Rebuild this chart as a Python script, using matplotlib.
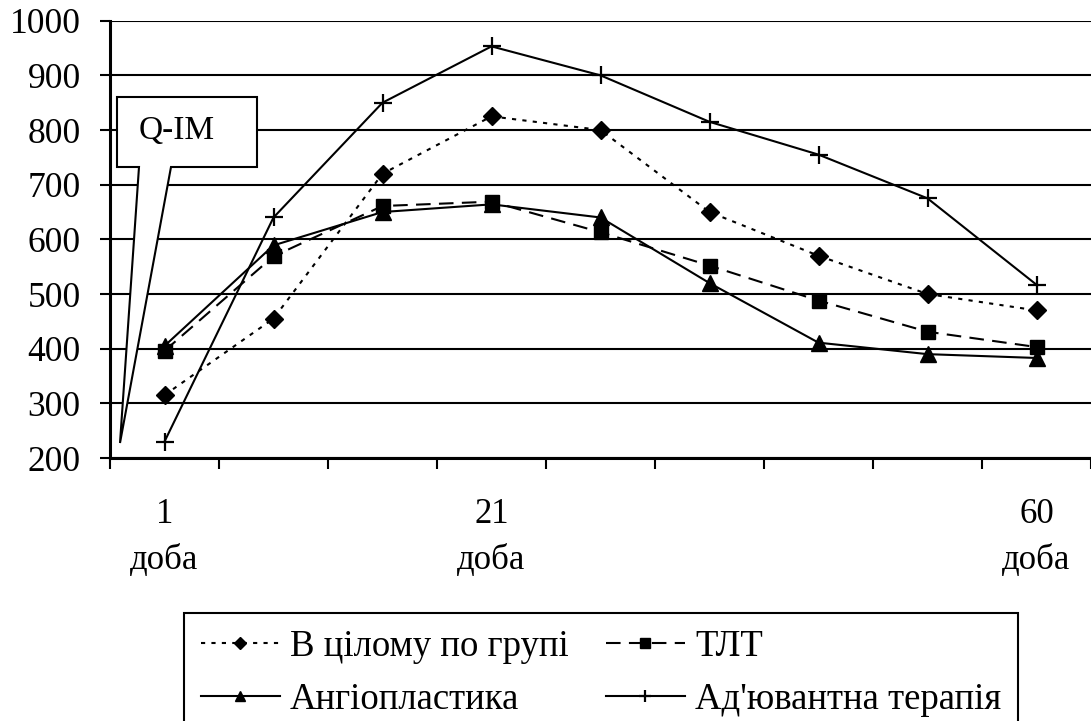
import matplotlib
matplotlib.use("Agg")
import matplotlib.pyplot as plt
from matplotlib.patches import Polygon
import numpy as np

plt.rcParams['font.family'] = ['Liberation Serif', 'DejaVu Serif']

# ---- data ----
categories = ["1\nдоба", "", "", "21\nдоба", "", "", "", "", "60\nдоба"]
series_names = ["В цілому по групі", "ТЛТ", "Ангіопластика", "Ад'ювантна терапія"]
whole_group = [315, 455, 720, 825, 800, 650, 570, 500, 470]
tlt = [396, 569, 661, 669, 613, 552, 488, 431, 403]
angioplasty = [405, 589, 650, 664, 640, 520, 411, 390, 383]
adjuvant = [230, 640, 850, 953, 900, 815, 755, 675, 517]
y_ticks = [200, 300, 400, 500, 600, 700, 800, 900, 1000]
callout_text = "Q-IM"

W, H = 1091, 721
fig = plt.figure(figsize=(W / 100, H / 100), dpi=100)
ax = fig.add_axes([110 / W, 1 - 458 / H, 1 - 110 / W, (458 - 20.7) / H])

x = np.arange(1, len(categories) + 1)
lw = 1.5
l1, = ax.plot(x, whole_group, color='black', lw=lw, linestyle=(0, (2, 3)),
              marker='D', markersize=9, zorder=3)
l2, = ax.plot(x, tlt, color='black', lw=lw, linestyle=(0, (7, 4)),
              marker='s', markersize=10, zorder=3)
l3, = ax.plot(x, angioplasty, color='black', lw=lw, linestyle='-',
              marker='^', markersize=11, zorder=3)
l4, = ax.plot(x, adjuvant, color='black', lw=lw, linestyle='-',
              marker='+', markersize=13, markeredgewidth=1.6, zorder=3)

ax.set_xlim(0.5, len(categories) + 0.5)
ax.set_ylim(200, 1000)
ax.set_yticks(y_ticks)
ax.yaxis.grid(True, color='black', lw=1.5, zorder=0)
ax.set_axisbelow(True)

# x ticks: marks at category boundaries, labels at centres
ax.set_xticks(np.arange(0.5, len(categories) + 0.51, 1.0))
ax.set_xticklabels([])
ax.set_xticks(x, minor=True)
ax.set_xticklabels(categories, minor=True, fontsize=25, linespacing=1.5)
ax.tick_params(axis='x', which='major', direction='out', length=8, width=1.5)
ax.tick_params(axis='x', which='minor', length=0, pad=29)
ax.tick_params(axis='y', direction='out', length=7, width=1.5, pad=14, labelsize=25.5)

for s in ['top', 'right']:
    ax.spines[s].set_visible(False)
for s in ['left', 'bottom']:
    ax.spines[s].set_linewidth(2.2)

# callout
pts_px = [(117, 97), (257, 97), (257, 167), (171, 167), (120, 443), (139, 167), (117, 167)]
pts = [(px / W, 1 - py / H) for px, py in pts_px]
poly = Polygon(pts, closed=True, facecolor='white', edgecolor='black', lw=1.5,
               transform=fig.transFigure, zorder=2)
ax.add_patch(poly)
fig.text(139 / W, 1 - 131 / H, callout_text, fontsize=24, ha='left', va='center', zorder=4)

# legend
handles = [l1, l3, l2, l4]
labels = [series_names[0], series_names[2], series_names[1], series_names[3]]
leg = fig.legend(handles, labels, loc='upper left', bbox_to_anchor=(184 / W, 1 - 613 / H),
                 ncol=2, fontsize=26.5, frameon=True, fancybox=False, shadow=False,
                 edgecolor='black', framealpha=1, borderpad=0.45, borderaxespad=0,
                 handlelength=2.15, handletextpad=0.28, columnspacing=1.0,
                 labelspacing=0.5, markerscale=0.7)
leg.get_frame().set_linewidth(1.5)

fig.savefig("out.png", dpi=100)
